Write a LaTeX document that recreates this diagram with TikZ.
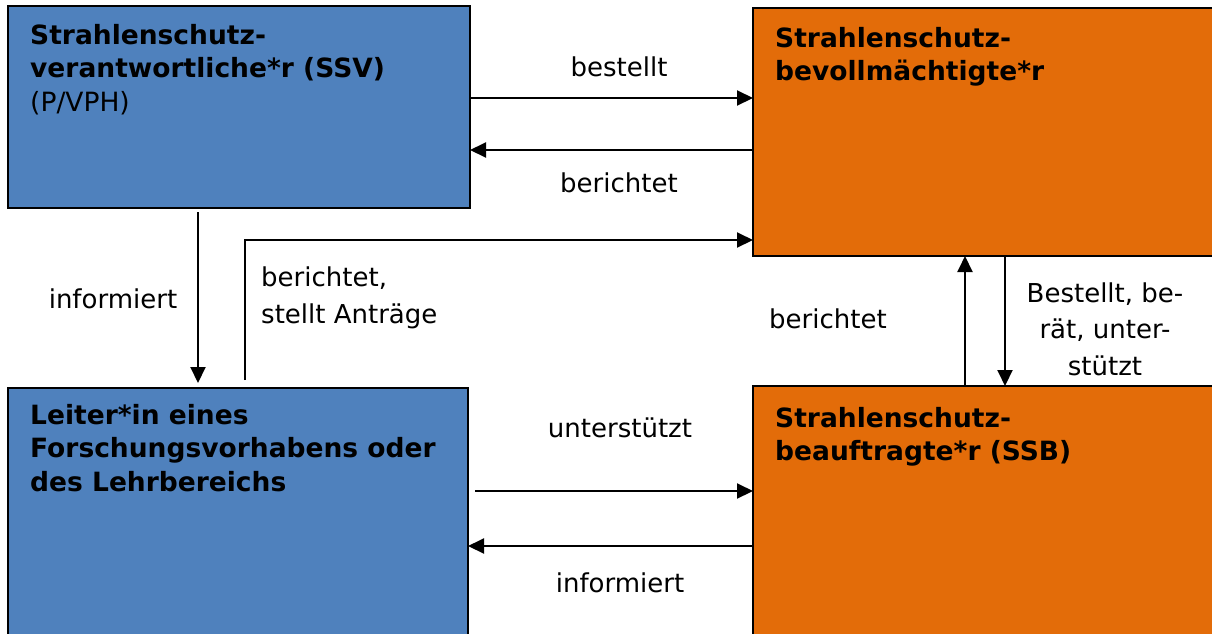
\documentclass[tikz,border=0pt]{standalone}
\usepackage{fontspec}
\setmainfont{DejaVu Sans}
\usetikzlibrary{arrows.meta}
\definecolor{boxblue}{RGB}{79,129,189}
\definecolor{boxorange}{RGB}{227,108,9}
\begin{document}
\begin{tikzpicture}[x=1pt,y=-1pt,
  box/.style={draw=black,line width=2.8pt,rectangle,inner sep=0pt,outer sep=0pt,anchor=north west},
  boxtext/.style={anchor=north west,align=left,inner sep=0pt,font=\fontsize{26.5}{33.5}\selectfont},
  lbl/.style={align=center,inner sep=0pt,font=\fontsize{26}{36.5}\selectfont},
  conn/.style={line width=2pt,-{Triangle[length=16pt,width=15pt]}}]
\useasboundingbox (0,0) rectangle (1212,633);
\clip (0,0) rectangle (1212,633);
% boxes
\node[box,fill=boxblue,minimum width=462pt,minimum height=202pt] (ssv) at (8,6) {};
\node[box,fill=boxorange,minimum width=470pt,minimum height=248pt] (sbv) at (753,8) {};
\node[box,fill=boxblue,minimum width=460pt,minimum height=260pt] (lei) at (8,388) {};
\node[box,fill=boxorange,minimum width=470pt,minimum height=260pt] (ssb) at (753,386) {};
% box texts
\node[boxtext] (ssvt) at (30,24) {\textbf{Strahlenschutz-}\\\textbf{verantwortliche*r (SSV)}\\(P/VPH)};
\node[boxtext] (sbvt) at (775,27) {\textbf{Strahlenschutz-}\\\textbf{bevollmächtigte*r}};
\node[boxtext] (leit) at (30,404) {\textbf{Leiter*in eines}\\\textbf{Forschungsvorhabens oder}\\\textbf{des Lehrbereichs}};
\node[boxtext] (ssbt) at (775,407) {\textbf{Strahlenschutz-}\\\textbf{beauftragte*r (SSB)}};
% connectors
\draw[conn] (ssv.east |- 0,98) -- (sbv.west |- 0,98);
\draw[conn] (sbv.west |- 0,150) -- (ssv.east |- 0,150);
\draw[conn] (198,212) coordinate (a1) -- (198,383) coordinate (a2);
\coordinate (c1) at (245,380);
\draw[conn] (c1) -- (245,240) -- (sbv.west |- 0,240);
\draw[conn] (ssb.north -| 965,0) -- (sbv.south -| 965,0);
\draw[conn] (sbv.south -| 1005,0) -- (ssb.north -| 1005,0);
\draw[conn] (lei.east |- 0,491) ++(7,0) -- (ssb.west |- 0,491);
\draw[conn] (ssb.west |- 0,546) -- (lei.east |- 0,546);
% labels
\node[lbl] (l1) at (619,67) {bestellt};
\node[lbl] (l2) at (619,183) {berichtet};
\node[lbl] (l3) at (113,299) {informiert};
\node[lbl,align=left,anchor=west] (l4) at (261,298) {berichtet,\\stellt Anträge};
\node[lbl] (l5) at (828,319) {berichtet};
\node[lbl] (l6) at (1105,329) {Bestellt, be-\\rät, unter-\\stützt};
\node[lbl] (l7) at (620,428) {unterstützt};
\node[lbl] (l8) at (620,583) {informiert};
\end{tikzpicture}
\end{document}
